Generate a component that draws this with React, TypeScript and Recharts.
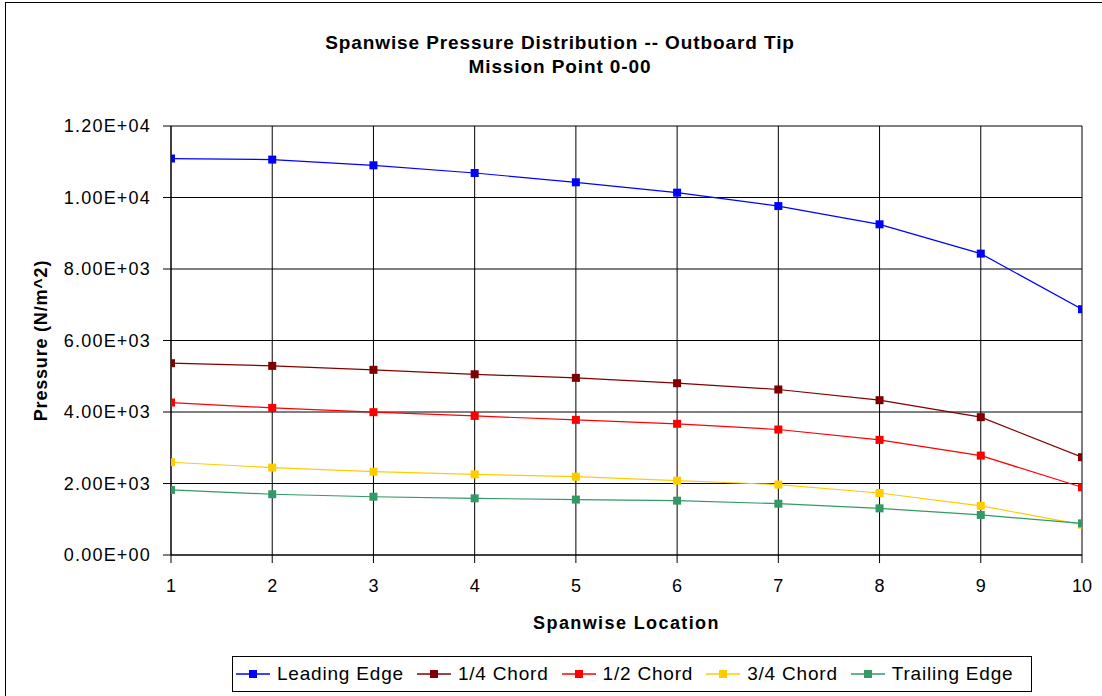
import { CartesianGrid, Line, LineChart, XAxis, YAxis } from "recharts";

const locations = [1, 2, 3, 4, 5, 6, 7, 8, 9, 10];
const leadingEdge = [11090, 11060, 10900, 10685, 10425, 10135, 9760, 9250, 8430, 6875];
const quarterChord = [5365, 5290, 5180, 5055, 4955, 4805, 4630, 4330, 3855, 2735];
const halfChord = [4265, 4115, 3995, 3890, 3780, 3670, 3510, 3220, 2780, 1895];
const threeQuarterChord = [2595, 2445, 2330, 2255, 2190, 2080, 1970, 1735, 1375, 850];
const trailingEdge = [1820, 1700, 1630, 1585, 1550, 1520, 1435, 1305, 1120, 885];
const yTicks = [0, 2000, 4000, 6000, 8000, 10000, 12000];

const series = [
  { key: "le", name: "Leading Edge", color: "#0000FF", values: leadingEdge },
  { key: "c25", name: "1/4 Chord", color: "#800000", values: quarterChord },
  { key: "c50", name: "1/2 Chord", color: "#FF0000", values: halfChord },
  { key: "c75", name: "3/4 Chord", color: "#FFCC00", values: threeQuarterChord },
  { key: "te", name: "Trailing Edge", color: "#339966", values: trailingEdge },
];

const data = locations.map((x, i) => {
  const row: Record<string, number> = { x };
  series.forEach((s) => (row[s.key] = s.values[i]));
  return row;
});

const FONT = "Arial, 'Liberation Sans', sans-serif";

function sci(v: number) {
  if (v === 0) return "0.00E+00";
  const e = Math.floor(Math.log10(Math.abs(v)));
  const m = v / Math.pow(10, e);
  return `${m.toFixed(2)}E${e < 0 ? "-" : "+"}${String(Math.abs(e)).padStart(2, "0")}`;
}

function Square(props: any) {
  const { cx, cy, stroke } = props;
  if (cx == null || cy == null) return null;
  return <rect x={cx - 4} y={cy - 4} width={8} height={8} fill={stroke} />;
}

function LegendBox() {
  return (
    <div
      style={{
        position: "absolute",
        left: 232,
        top: 656,
        width: 800,
        height: 36,
        border: "1px solid #000",
        background: "#fff",
        display: "flex",
        alignItems: "center",
        boxSizing: "border-box",
        paddingLeft: 3,
        fontFamily: FONT,
        fontSize: 19,
        letterSpacing: 0.8,
        color: "#000",
      }}
    >
      {series.map((s) => (
        <div key={s.key} style={{ display: "flex", alignItems: "center", marginRight: 13 }}>
          <svg width={34} height={12} style={{ marginRight: 7 }}>
            <line x1={0} y1={6} x2={34} y2={6} stroke={s.color} strokeWidth={1.5} />
            <rect x={13} y={2} width={8} height={8} fill={s.color} />
          </svg>
          <span>{s.name}</span>
        </div>
      ))}
    </div>
  );
}

export default function App() {
  return (
    <div style={{ position: "absolute", left: 0, top: 0, width: 1102, height: 696, background: "#fff", overflow: "hidden" }}>
      <div
        style={{
          position: "absolute",
          left: 5,
          top: 2,
          width: 1120,
          height: 720,
          border: "1px solid #000",
        }}
      />
      <div
        style={{
          position: "absolute",
          left: 0,
          width: 1120,
          top: 31,
          textAlign: "center",
          fontFamily: FONT,
          fontWeight: "bold",
          fontSize: 19,
          lineHeight: "24px",
          letterSpacing: 0.9,
          color: "#000",
        }}
      >
        <div>Spanwise Pressure Distribution -- Outboard Tip</div>
        <div>Mission Point 0-00</div>
      </div>
      <div style={{ position: "absolute", left: 0, top: 0 }}>
        <LineChart width={1102} height={696} data={data} margin={{ top: 126, right: 20, left: 51, bottom: 101 }}>
          <CartesianGrid stroke="#000" strokeWidth={1} horizontal vertical />
          <XAxis
            dataKey="x"
            type="number"
            domain={[1, 10]}
            ticks={locations}
            allowDataOverflow
            stroke="#000"
            tickSize={8}
            height={40}
            tick={{ fill: "#000", fontSize: 18, fontFamily: FONT, dy: 14 }}
            label={{
              value: "Spanwise Location",
              position: "insideBottom",
              offset: -34,
              style: { fill: "#000", fontSize: 18, fontFamily: FONT, fontWeight: "bold", letterSpacing: 1.4 },
            }}
          />
          <YAxis
            type="number"
            domain={[0, 12000]}
            ticks={yTicks}
            stroke="#000"
            tickSize={8}
            width={120}
            tickFormatter={sci}
            tick={{ fill: "#000", fontSize: 18, fontFamily: FONT, letterSpacing: 1.2, dx: -10 }}
            label={(p: any) => {
              const vb = p.viewBox || {};
              const cy = (vb.y ?? 126) + (vb.height ?? 428) / 2;
              return (
                <text
                  x={41}
                  y={cy}
                  transform={`rotate(-90, 41, ${cy})`}
                  textAnchor="middle"
                  dominantBaseline="central"
                  style={{ fill: "#000", fontSize: 18, fontFamily: FONT, fontWeight: "bold", letterSpacing: 0.8 }}
                >
                  Pressure (N/m^2)
                </text>
              );
            }}
          />
          {series.map((s) => (
            <Line
              key={s.key}
              dataKey={s.key}
              name={s.name}
              stroke={s.color}
              strokeWidth={1.2}
              dot={<Square />}
              activeDot={false}
              isAnimationActive={false}
            />
          ))}
        </LineChart>
      </div>
      <LegendBox />
    </div>
  );
}
